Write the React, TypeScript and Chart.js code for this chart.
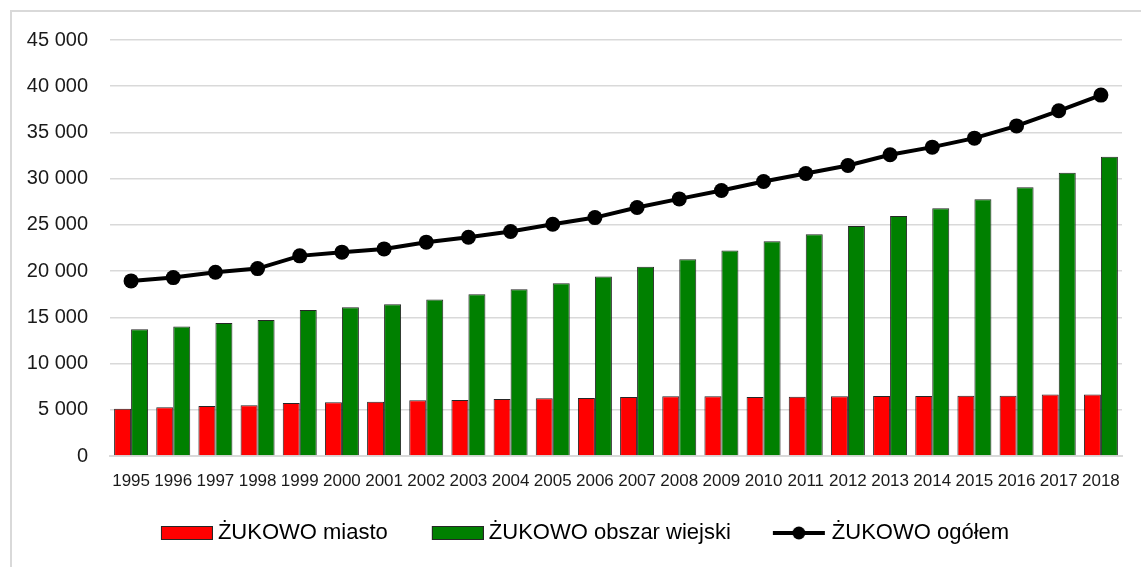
import React, { useEffect, useRef } from "react";
import { Chart, registerables } from "chart.js";

Chart.register(...registerables);

const years = [
  "1995", "1996", "1997", "1998", "1999", "2000", "2001", "2002", "2003", "2004", "2005", "2006",
  "2007", "2008", "2009", "2010", "2011", "2012", "2013", "2014", "2015", "2016", "2017", "2018",
];

const miasto = [
  5120, 5270, 5410, 5490, 5740, 5810, 5880, 6030, 6060, 6170, 6240, 6280,
  6390, 6460, 6460, 6390, 6420, 6460, 6490, 6490, 6530, 6530, 6640, 6640,
];

const wiejski = [
  13710, 14000, 14390, 14720, 15800, 16090, 16410, 16920, 17500, 18040, 18690, 19410,
  20460, 21290, 22220, 23240, 23990, 24890, 25970, 26800, 27780, 29080, 30630, 32360,
];

const ogolem = [
  18940, 19300, 19880, 20270, 21650, 22050, 22400, 23130, 23670, 24280, 25070, 25790,
  26880, 27810, 28720, 29690, 30560, 31420, 32580, 33410, 34380, 35710, 37340, 39040,
];

const seriesLabels = ["ŻUKOWO miasto", "ŻUKOWO obszar wiejski", "ŻUKOWO ogółem"];

const RED = "#FF0000";
const GREEN = "#008000";
const BAR_BORDER = "#262626";
const GRID = "#d9d9d9";
const TEXT = "#1a1a1a";

// legend marker geometry: boxWidth used by the legend, image is a bit wider
const LEG_W = 68;
const IMG_W = LEG_W + 12;

function fmt(v: number): string {
  return String(v).replace(/\B(?=(\d{3})+(?!\d))/g, " ");
}

function boxImage(fill: string): HTMLCanvasElement {
  const c = document.createElement("canvas");
  c.width = IMG_W;
  c.height = 14;
  const ctx = c.getContext("2d")!;
  const x0 = IMG_W - 52;
  ctx.fillStyle = fill;
  ctx.fillRect(x0, 0, 52, 14);
  ctx.strokeStyle = BAR_BORDER;
  ctx.lineWidth = 1;
  ctx.strokeRect(x0 + 0.5, 0.5, 51, 13);
  return c;
}

function lineImage(): HTMLCanvasElement {
  const c = document.createElement("canvas");
  c.width = IMG_W;
  c.height = 16;
  const ctx = c.getContext("2d")!;
  const x0 = IMG_W - 54;
  ctx.strokeStyle = "#000";
  ctx.lineWidth = 4;
  ctx.beginPath();
  ctx.moveTo(x0, 8);
  ctx.lineTo(x0 + 52, 8);
  ctx.stroke();
  ctx.fillStyle = "#000";
  ctx.beginPath();
  ctx.arc(x0 + 26, 8, 6.5, 0, Math.PI * 2);
  ctx.fill();
  return c;
}

export default function App() {
  const canvasRef = useRef<HTMLCanvasElement | null>(null);

  useEffect(() => {
    const canvas = canvasRef.current;
    if (!canvas) return;
    const legendImgs = [boxImage(RED), boxImage(GREEN), lineImage()];

    const chart = new Chart(canvas, {
      type: "bar",
      data: {
        labels: years,
        datasets: [
          {
            type: "bar",
            label: seriesLabels[0],
            data: miasto,
            backgroundColor: RED,
            borderColor: BAR_BORDER,
            borderWidth: 1,
            categoryPercentage: 0.806,
            barPercentage: 1,
            order: 1,
          },
          {
            type: "bar",
            label: seriesLabels[1],
            data: wiejski,
            backgroundColor: GREEN,
            borderColor: BAR_BORDER,
            borderWidth: 1,
            categoryPercentage: 0.806,
            barPercentage: 1,
            order: 2,
          },
          {
            type: "line",
            label: seriesLabels[2],
            data: ogolem,
            borderColor: "#000",
            backgroundColor: "#000",
            borderWidth: 4,
            pointRadius: 7.5,
            pointBackgroundColor: "#000",
            pointBorderColor: "#000",
            pointBorderWidth: 0,
            tension: 0,
            order: 0,
          } as any,
        ],
      },
      options: {
        responsive: false,
        animation: false,
        devicePixelRatio: 1,
        layout: { padding: { left: 26, right: 19, top: 40, bottom: 13 } },
        scales: {
          x: {
            grid: { display: false, drawTicks: false },
            border: { display: true, color: GRID, width: 2 },
            ticks: {
              autoSkip: false,
              maxRotation: 0,
              minRotation: 0,
              padding: 15,
              color: TEXT,
              font: { family: "'Liberation Sans', Arial, sans-serif", size: 17 },
            },
            afterFit: (scale: any) => {
              scale.height = 44;
            },
          },
          y: {
            min: 0,
            max: 45000,
            grid: { color: GRID, lineWidth: 1.5, drawTicks: false },
            border: { display: false },
            ticks: {
              stepSize: 5000,
              padding: 22,
              color: TEXT,
              font: { family: "'Liberation Sans', Arial, sans-serif", size: 20 },
              callback: (v: any) => fmt(Number(v)),
            },
            afterFit: (scale: any) => {
              scale.width = 84;
            },
          },
        },
        plugins: {
          tooltip: { enabled: false },
          legend: {
            position: "bottom",
            align: "center",
            labels: {
              usePointStyle: true,
              pointStyleWidth: LEG_W,
              padding: 22,
              color: "#000",
              font: { family: "'Liberation Sans', Arial, sans-serif", size: 22 },
              generateLabels: (ch: any) =>
                ch.data.datasets.map((ds: any, i: number) => ({
                  text: ds.label,
                  pointStyle: legendImgs[i],
                  fillStyle: ds.backgroundColor,
                  strokeStyle: ds.borderColor,
                  lineWidth: 0,
                  hidden: false,
                  datasetIndex: i,
                  fontColor: "#000",
                })),
            },
          },
        },
      },
    } as any);

    return () => chart.destroy();
  }, []);

  return (
    <div
      style={{
        position: "fixed",
        left: 0,
        top: 0,
        width: 1141,
        height: 567,
        overflow: "hidden",
        background: "#fff",
      }}
    >
      <div
        style={{
          position: "absolute",
          left: 10,
          top: 10,
          width: 1200,
          height: 600,
          border: `2px solid ${GRID}`,
          boxSizing: "border-box",
        }}
      />
      <canvas
        ref={canvasRef}
        width={1141}
        height={567}
        style={{ position: "absolute", left: 0, top: 0, width: 1141, height: 567, display: "block" }}
      />
    </div>
  );
}
